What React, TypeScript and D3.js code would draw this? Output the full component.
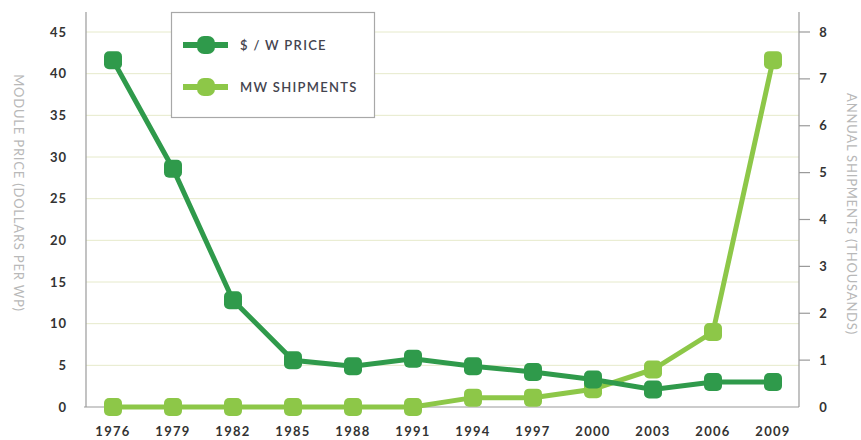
import React, { useEffect, useRef } from 'react';
import * as d3 from 'd3';

const years = [1976, 1979, 1982, 1985, 1988, 1991, 1994, 1997, 2000, 2003, 2006, 2009];
const priceValues = [41.6, 28.6, 12.8, 5.6, 4.9, 5.8, 4.9, 4.2, 3.3, 2.1, 3.0, 3.0];
const shipmentValues = [0, 0, 0, 0, 0, 0, 0.2, 0.2, 0.38, 0.8, 1.6, 7.4];
const leftTicks = [0, 5, 10, 15, 20, 25, 30, 35, 40, 45];
const rightTicks = [0, 1, 2, 3, 4, 5, 6, 7, 8];
const seriesNames = ['$ / W PRICE', 'MW SHIPMENTS'];

const DARK = '#2f9a4b';
const LIGHT = '#8dc748';
const FONT = 'Lato, "Open Sans", sans-serif';

export default function App() {
  const ref = useRef<SVGSVGElement>(null);

  useEffect(() => {
    const svg = d3.select(ref.current);
    svg.selectAll('*').remove();

    const left = 86, right = 799, top = 12, bottom = 407;

    const x = d3.scaleLinear().domain([1976, 2009]).range([113, 773]);
    const yL = d3.scaleLinear().domain([0, 45]).range([bottom, 32]);
    const yR = d3.scaleLinear().domain([0, 8]).range([bottom, 32]);

    // gridlines
    svg.append('g')
      .selectAll('line')
      .data(leftTicks.filter(t => t > 0))
      .enter()
      .append('line')
      .attr('x1', left)
      .attr('x2', right)
      .attr('y1', d => yL(d))
      .attr('y2', d => yL(d))
      .attr('stroke', '#e6eacb')
      .attr('stroke-width', 1);

    // axis lines
    const axisColor = '#9a9a9a';
    svg.append('line').attr('x1', left).attr('x2', left).attr('y1', top).attr('y2', bottom)
      .attr('stroke', axisColor).attr('stroke-width', 1.2);
    svg.append('line').attr('x1', right).attr('x2', right).attr('y1', top).attr('y2', bottom)
      .attr('stroke', axisColor).attr('stroke-width', 1.2);
    svg.append('line').attr('x1', left - 2).attr('x2', right).attr('y1', bottom).attr('y2', bottom)
      .attr('stroke', axisColor).attr('stroke-width', 1.2);

    // left tick labels
    svg.append('g')
      .selectAll('text')
      .data(leftTicks)
      .enter()
      .append('text')
      .attr('x', 67)
      .attr('y', d => yL(d))
      .attr('dy', '0.35em')
      .attr('text-anchor', 'end')
      .style('font-family', FONT)
      .style('font-size', '13px')
      .style('font-weight', 'bold')
      .style('letter-spacing', '1px')
      .attr('fill', '#333')
      .text(d => d);

    // right ticks
    const rt = svg.append('g');
    rt.selectAll('line')
      .data(rightTicks.filter(t => t > 0))
      .enter()
      .append('line')
      .attr('x1', right)
      .attr('x2', right + 11)
      .attr('y1', d => yR(d))
      .attr('y2', d => yR(d))
      .attr('stroke', axisColor)
      .attr('stroke-width', 1.2);
    rt.selectAll('text')
      .data(rightTicks)
      .enter()
      .append('text')
      .attr('x', 823)
      .attr('y', d => yR(d))
      .attr('dy', '0.35em')
      .attr('text-anchor', 'middle')
      .style('font-family', FONT)
      .style('font-size', '13px')
      .style('font-weight', 'bold')
      .attr('fill', '#333')
      .text(d => d);

    // x labels
    svg.append('g')
      .selectAll('text')
      .data(years)
      .enter()
      .append('text')
      .attr('x', d => x(d))
      .attr('y', 431)
      .attr('dy', '0.35em')
      .attr('text-anchor', 'middle')
      .style('font-family', FONT)
      .style('font-size', '13px')
      .style('font-weight', 'bold')
      .style('letter-spacing', '1.3px')
      .attr('fill', '#333')
      .text(d => d);

    // axis titles
    svg.append('text')
      .attr('transform', 'translate(14, 193) rotate(90)')
      .attr('text-anchor', 'middle')
      .style('font-family', FONT)
      .style('font-size', '13px')
      .style('letter-spacing', '0.8px')
      .attr('fill', '#b8b8b8')
      .text('MODULE PRICE (DOLLARS PER WP)');
    svg.append('text')
      .attr('transform', 'translate(847, 214) rotate(90)')
      .attr('text-anchor', 'middle')
      .style('font-family', FONT)
      .style('font-size', '13px')
      .style('letter-spacing', '0.8px')
      .attr('fill', '#b8b8b8')
      .text('ANNUAL SHIPMENTS (THOUSANDS)');

    const drawSeries = (vals: number[], y: d3.ScaleLinear<number, number>, color: string) => {
      const pts = years.map((yr, i) => [x(yr), y(vals[i])] as [number, number]);
      svg.append('path')
        .attr('d', d3.line()(pts))
        .attr('fill', 'none')
        .attr('stroke', color)
        .attr('stroke-width', 5);
      svg.append('g')
        .selectAll('rect')
        .data(pts)
        .enter()
        .append('rect')
        .attr('x', d => d[0] - 9)
        .attr('y', d => d[1] - 9)
        .attr('width', 18)
        .attr('height', 18)
        .attr('rx', 5)
        .attr('fill', color);
    };

    drawSeries(shipmentValues, yR, LIGHT);
    drawSeries(priceValues, yL, DARK);

    // legend
    const lg = svg.append('g');
    lg.append('rect')
      .attr('x', 171.5)
      .attr('y', 12.5)
      .attr('width', 203)
      .attr('height', 105)
      .attr('fill', '#fff')
      .attr('stroke', '#a8a8a8')
      .attr('stroke-width', 1.2);
    const legendColors = [DARK, LIGHT];
    seriesNames.forEach((name, i) => {
      const cy = 45 + i * 42;
      lg.append('line')
        .attr('x1', 183).attr('x2', 228).attr('y1', cy).attr('y2', cy)
        .attr('stroke', legendColors[i]).attr('stroke-width', 6);
      lg.append('rect')
        .attr('x', 197).attr('y', cy - 9).attr('width', 18).attr('height', 18).attr('rx', 7)
        .attr('fill', legendColors[i]);
      lg.append('text')
        .attr('x', 240)
        .attr('y', cy)
        .attr('dy', '0.35em')
        .style('font-family', FONT)
        .style('font-size', '13px')
        .style('font-weight', 600)
        .style('letter-spacing', '1.3px')
        .attr('fill', '#44444f')
        .text(name);
    });
  }, []);

  return (
    <svg
      ref={ref}
      width={861}
      height={440}
      style={{ position: 'absolute', left: 0, top: 0, background: '#fff' }}
    />
  );
}
